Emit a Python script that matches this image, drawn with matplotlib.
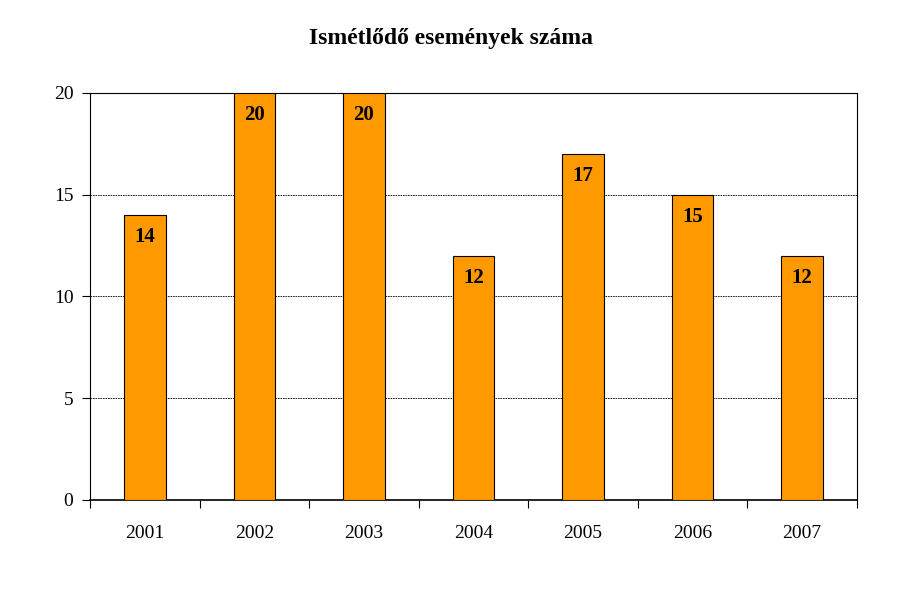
import matplotlib
matplotlib.use("Agg")
import matplotlib.pyplot as plt

years = ["2001", "2002", "2003", "2004", "2005", "2006", "2007"]
values = [14, 20, 20, 12, 17, 15, 12]
yticks = [0, 5, 10, 15, 20]

plt.rcParams['font.family'] = ['Liberation Serif', 'DejaVu Serif']
fig = plt.figure(figsize=(9.03, 6.15), dpi=100)
ax = fig.add_axes([0.0997, 0.187, 0.8493, 0.662])
x = list(range(len(years)))
ax.bar(x, values, width=0.38, color="#FF9900", edgecolor="black", linewidth=0.8, zorder=3)
for xi, v in zip(x, values):
    ax.text(xi, v - 0.6, str(v), ha="center", va="top", fontsize=15, fontweight="bold", zorder=4)
ax.set_xlim(-0.5, len(years) - 0.5)
ax.set_ylim(0, 20)
ax.set_yticks(yticks)
ax.set_yticklabels([str(t) for t in yticks], fontsize=14)
ax.yaxis.grid(True, linestyle=(0, (2, 1)), color="black", linewidth=0.6, zorder=0)
ax.set_xticks([i - 0.5 for i in range(len(years) + 1)])
ax.set_xticklabels([])
ax.set_xticks(x, minor=True)
ax.set_xticklabels(years, minor=True, fontsize=14)
ax.tick_params(axis="x", which="minor", length=0, pad=18)
ax.tick_params(axis="x", which="major", length=6, direction="out")
ax.tick_params(axis="y", length=6, direction="out", pad=6)
for s in ax.spines.values():
    s.set_linewidth(0.8)
ax.spines["bottom"].set_linewidth(1.2)
fig.suptitle("Ismétlődő események száma", y=0.955, fontsize=17, fontweight="bold")
fig.savefig("out.png", dpi=100)
